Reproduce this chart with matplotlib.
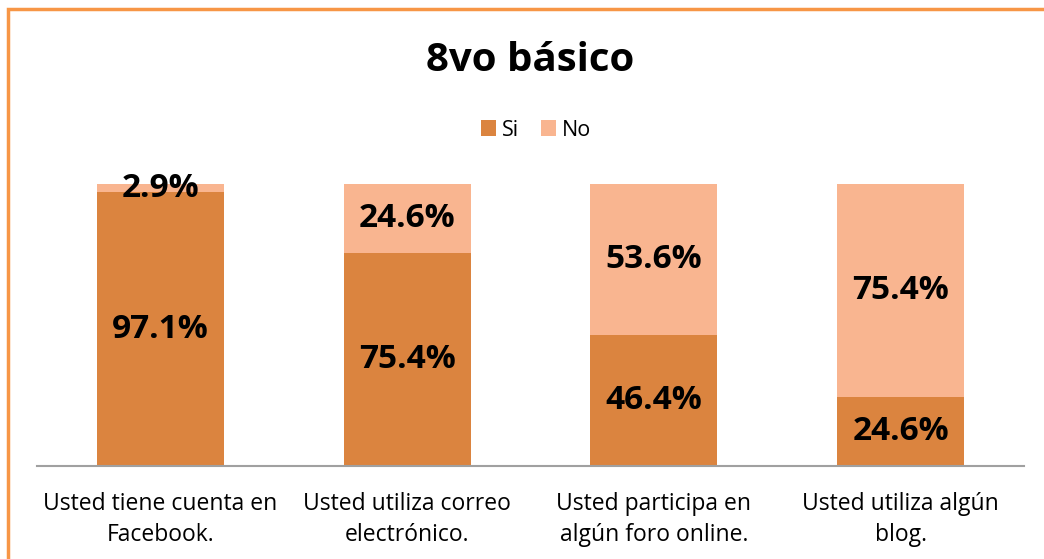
import numpy as np
import matplotlib.pyplot as plt
from matplotlib.patches import Rectangle

# Datos
categorias = ["Usted tiene cuenta en\nFacebook.",
              "Usted utiliza correo\nelectrónico.",
              "Usted participa en\nalgún foro online.",
              "Usted utiliza algún\nblog."]
si = [97.1, 75.4, 46.4, 24.6]
no = [2.9, 24.6, 53.6, 75.4]

color_si = "#DB843F"
color_no = "#F9B590"

plt.rcParams['font.family'] = ['Open Sans', 'DejaVu Sans']

fig = plt.figure(figsize=(10.44, 5.59), dpi=100)
ax = fig.add_axes([37 / 1044, 1 - 466 / 559, 987 / 1044, 282 / 559])

x = np.arange(len(categorias))
ancho = 0.515
b1 = ax.bar(x, si, ancho, color=color_si, label="Si")
b2 = ax.bar(x, no, ancho, bottom=si, color=color_no, label="No")

for i in range(len(x)):
    ax.text(x[i], si[i] / 2, f"{si[i]:.1f}%", ha="center", va="center",
            fontsize=24, fontweight="bold", color="black")
    ax.text(x[i], si[i] + no[i] / 2, f"{no[i]:.1f}%", ha="center", va="center",
            fontsize=24, fontweight="bold", color="black")

ax.set_xlim(-0.5, 3.5)
ax.set_ylim(0, 100)
ax.set_yticks([])
ax.set_xticks(x)
ax.set_xticklabels(categorias, fontsize=16.5, linespacing=1.38)
ax.tick_params(axis="x", length=0, pad=19)
for s in ["top", "right", "left"]:
    ax.spines[s].set_visible(False)
ax.spines["bottom"].set_color("#A0A0A0")
ax.spines["bottom"].set_linewidth(1.5)

fig.text(530 / 1044, 1 - 61 / 559, "8vo básico", ha="center", va="center",
         fontsize=29, fontweight="bold")
fig.legend(handles=[b1, b2], loc="center", bbox_to_anchor=(536 / 1044, 1 - 130 / 559),
           ncol=2, frameon=False, fontsize=15.5, handlelength=0.7,
           handleheight=0.7, handletextpad=0.3, columnspacing=1.0)

# borde naranja
fig.patches.append(Rectangle((7.5 / 1044, -0.05), 1.2, 1 - 8.5 / 559 + 0.05,
                             transform=fig.transFigure, fill=False,
                             edgecolor="#F79646", linewidth=2.5))

fig.savefig("out.png", dpi=100)
